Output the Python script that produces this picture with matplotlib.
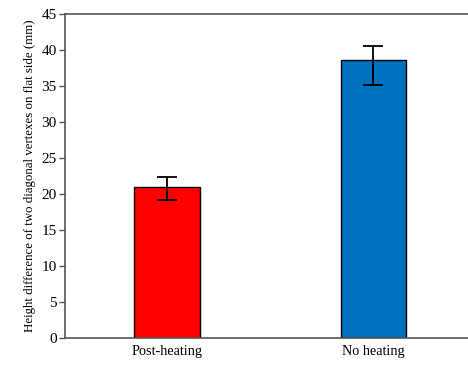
import numpy as np
import matplotlib.pyplot as plt

# bar data
categories = ['Post-heating', 'No heating']
heights = [21.0, 38.6]
err_low = [1.8, 3.5]
err_high = [1.3, 2.0]
colors = ['#ff0000', '#0070c0']

plt.rcParams['font.family'] = ['Liberation Serif', 'DejaVu Serif']

fig = plt.figure(figsize=(4.68, 3.65), dpi=100)
ax = fig.add_axes([65 / 468, 1 - 338 / 365, 403 / 468, 324 / 365])

x = np.arange(len(categories))
ax.bar(x, heights, width=0.315, color=colors, edgecolor='black', linewidth=1.0,
       yerr=[err_low, err_high], capsize=7,
       error_kw=dict(ecolor='black', elinewidth=1.3, capthick=1.3))

ax.set_xlim(-0.494, 1.458)
ax.set_ylim(0, 45)
ax.set_yticks(np.arange(0, 46, 5))
ax.set_xticks(x)
ax.set_xticklabels(categories, fontsize=10.3)
ax.tick_params(axis='y', labelsize=11, length=4, width=1, color='#555555', pad=2)
ax.tick_params(axis='x', length=0, pad=5)
ax.set_ylabel('Height difference of two diagonal vertexes on flat side (mm)', fontsize=9.3, labelpad=4)

for s in ['left', 'top', 'bottom']:
    ax.spines[s].set_color('#555555')
    ax.spines[s].set_linewidth(1.2)
ax.spines['right'].set_visible(False)

fig.savefig('out.png', dpi=100)
